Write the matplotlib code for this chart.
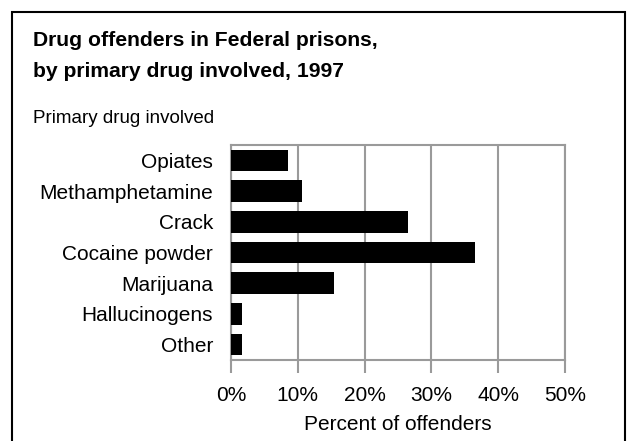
import matplotlib
matplotlib.use("Agg")
import matplotlib.pyplot as plt
from matplotlib.patches import Rectangle

categories = ["Opiates", "Methamphetamine", "Crack", "Cocaine powder",
              "Marijuana", "Hallucinogens", "Other"]
values = [8.5, 10.7, 26.5, 36.6, 15.4, 1.6, 1.6]
xticks = [0, 10, 20, 30, 40, 50]
xtick_labels = ["0%", "10%", "20%", "30%", "40%", "50%"]

plt.rcParams['font.family'] = ['Liberation Sans', 'DejaVu Sans']

fig = plt.figure(figsize=(6.39, 4.41), dpi=100)
ax = fig.add_axes([231/639, 1-360/441, (565-231)/639, (360-145)/441])

grey = "#9a9a9a"
fs = 15
ypos = list(range(len(categories)))
ax.barh(ypos, values, height=0.7, color="black", zorder=3)
ax.set_ylim(len(categories)-0.5, -0.5)
ax.set_xlim(0, 50)
ax.set_xticks(xticks)
ax.set_xticklabels(xtick_labels, fontsize=fs)
ax.set_yticks(ypos)
ax.set_yticklabels(categories, fontsize=fs)
ax.tick_params(axis='y', length=0, pad=13)
ax.tick_params(axis='x', length=9, width=1.5, color=grey, direction='out', pad=10)
ax.xaxis.grid(True, color=grey, linewidth=1.5, zorder=0)
for s in ax.spines.values():
    s.set_color(grey)
    s.set_linewidth(1.5)
ax.set_xlabel("Percent of offenders", fontsize=fs, labelpad=7)

fig.patches.append(Rectangle((12/639, -0.05), (625-12)/639, 1.05-12/441,
                             transform=fig.transFigure, fill=False,
                             edgecolor="black", linewidth=1.5))

fig.text(33/639, 1-46/441, "Drug offenders in Federal prisons,",
         fontsize=15.2, fontweight="bold", va="baseline", ha="left")
fig.text(33/639, 1-77/441, "by primary drug involved, 1997",
         fontsize=15.2, fontweight="bold", va="baseline", ha="left")
fig.text(33/639, 1-123/441, "Primary drug involved",
         fontsize=13.5, va="baseline", ha="left")

fig.savefig("out.png", dpi=100)
